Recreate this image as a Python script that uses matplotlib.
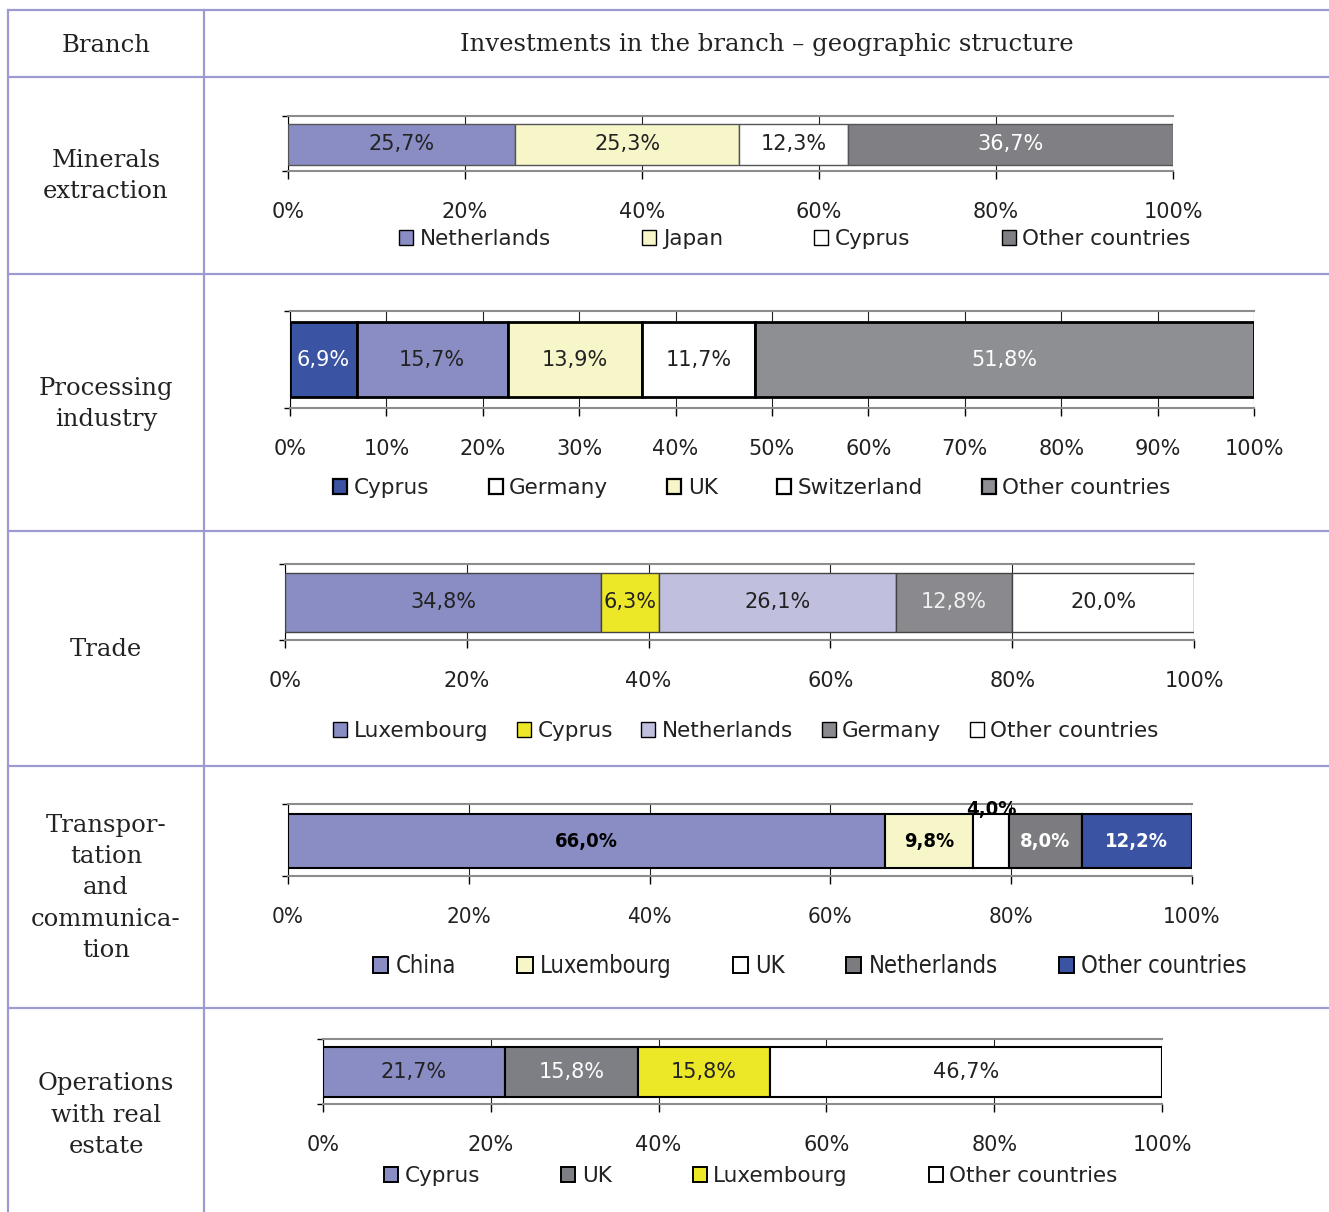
import matplotlib
matplotlib.use("Agg")
import matplotlib.pyplot as plt
from matplotlib.patches import Patch

# ---- data ----
branches = ["Minerals\nextraction", "Processing\nindustry", "Trade",
            "Transpor-\ntation\nand\ncommunica-\ntion", "Operations\nwith real\nestate"]

minerals_countries = ["Netherlands", "Japan", "Cyprus", "Other countries"]
minerals_values = [25.7, 25.3, 12.3, 36.7]

processing_countries = ["Cyprus", "Germany", "UK", "Switzerland", "Other countries"]
processing_values = [6.9, 15.7, 13.9, 11.7, 51.8]

trade_countries = ["Luxembourg", "Cyprus", "Netherlands", "Germany", "Other countries"]
trade_values = [34.8, 6.3, 26.1, 12.8, 20.0]

transport_countries = ["China", "Luxembourg", "UK", "Netherlands", "Other countries"]
transport_values = [66.0, 9.8, 4.0, 8.0, 12.2]

estate_countries = ["Cyprus", "UK", "Luxembourg", "Other countries"]
estate_values = [21.7, 15.8, 15.8, 46.7]

header_left = "Branch"
header_right = "Investments in the branch \u2013 geographic structure"

# ---- colours ----
LAV = "#8a8dc4"
LLAV = "#c0c0de"
LYEL = "#f7f6c8"
YEL = "#ece827"
DBLUE = "#3a53a3"
WHITE = "#ffffff"
LINE = "#9b9bd2"

W, H = 1329, 1212
fig = plt.figure(figsize=(W / 100, H / 100), dpi=100)
bg = fig.add_axes([0, 0, 1, 1])
bg.set_xlim(0, W)
bg.set_ylim(H, 0)
bg.axis("off")

# table grid
for y in [10, 77, 274, 531, 766, 1008]:
    bg.plot([8, W], [y, y], color=LINE, lw=1.6)
for x in [8, 204]:
    bg.plot([x, x], [10, H], color=LINE, lw=1.6)

serif = "DejaVu Serif"
bg.text(106, 45, header_left, ha="center", va="center", fontsize=17.5, family=serif, color="#222")
bg.text(767, 45, header_right, ha="center", va="center", fontsize=17.5, family=serif, color="#222")
for name, yc in zip(branches, [176, 404, 649, 888, 1115]):
    bg.text(106, yc, name, ha="center", va="center", fontsize=17.5, family=serif,
            color="#222", linespacing=1.46)

# row geometry in pixels: x0, x1, top line, bottom line, bar top, bar bottom
rows = [
    dict(vals=minerals_values, names=minerals_countries,
         colors=[LAV, LYEL, WHITE, "#7f7f84"], lcolors=[LAV, LYEL, WHITE, "#7f7f84"],
         tcolors=["#222", "#222", "#222", "white"],
         geo=(288, 1173, 116, 171, 124, 165), step=20, edge=("#555", 1.0),
         leg=(795, 239), cs=4.25, stretch="normal", fs=15, lfs=15.5, bold=False, ledge=1.0),
    dict(vals=processing_values, names=processing_countries,
         colors=[DBLUE, LAV, LYEL, WHITE, "#8e8f93"], lcolors=[DBLUE, WHITE, LYEL, WHITE, "#8e8f93"],
         tcolors=["white", "#222", "#222", "#222", "white"],
         geo=(290, 1254, 311, 408, 322, 397), step=10, edge=("black", 2.0),
         leg=(752, 488), cs=2.75, stretch="normal", fs=15, lfs=15.5, bold=False, ledge=1.6),
    dict(vals=trade_values, names=trade_countries,
         colors=[LAV, YEL, LLAV, "#8a8a8e", WHITE], lcolors=[LAV, YEL, LLAV, "#8a8a8e", WHITE],
         tcolors=["#222", "#222", "#222", "#f0f0f0", "#222"],
         geo=(285, 1194, 564, 640, 573, 632), step=20, edge=("#444", 1.0),
         leg=(746, 731), cs=1.33, stretch="normal", fs=15, lfs=15.5, bold=False, ledge=1.0),
    dict(vals=transport_values, names=transport_countries,
         colors=[LAV, LYEL, WHITE, "#7b7b80", DBLUE], lcolors=[LAV, LYEL, WHITE, "#7b7b80", DBLUE],
         tcolors=["black", "black", "black", "white", "white"],
         geo=(288, 1192, 804, 876, 814, 868), step=20, edge=("black", 1.5),
         leg=(810, 966), cs=2.6, stretch="condensed", fs=16, lfs=17, bold=True, ledge=1.4),
    dict(vals=estate_values, names=estate_countries,
         colors=[LAV, "#7e7f84", YEL, WHITE], lcolors=[LAV, "#7e7f84", YEL, WHITE],
         tcolors=["#222", "white", "#222", "#222"],
         geo=(323, 1162, 1039, 1104, 1047, 1097), step=20, edge=("black", 1.5),
         leg=(751, 1176), cs=3.77, stretch="normal", fs=15, lfs=15.5, bold=False, ledge=1.4),
]

for r in rows:
    x0, x1, yt, yb, bt, bb = r["geo"]
    ax = fig.add_axes([x0 / W, 1 - yb / H, (x1 - x0) / W, (yb - yt) / H])
    ax.set_xlim(0, 100)
    ax.set_ylim(-0.5, 0.5)
    frac = (bb - bt) / (yb - yt)
    yc = ((yt + yb) / 2 - (bt + bb) / 2) / (yb - yt)
    left = 0
    for v, c, tc in zip(r["vals"], r["colors"], r["tcolors"]):
        ax.barh(yc, v, left=left, height=frac, color=c,
                edgecolor=r["edge"][0], linewidth=r["edge"][1], zorder=3)
        lab = f"{v:.1f}".replace(".", ",") + "%"
        if r["bold"]:
            ypos = 0.43 if v < 5 else yc
            ax.text(left + v / 2, ypos, lab, ha="center", va="center", fontsize=14.5,
                    family="DejaVu Sans", stretch="condensed", weight="bold",
                    color=tc, zorder=5, clip_on=False)
        else:
            ax.text(left + v / 2, yc, lab, ha="center", va="center", fontsize=r["fs"],
                    family="DejaVu Sans", color=tc, zorder=5)
        left += v

    ticks = list(range(0, 101, r["step"]))
    ax.set_xticks(ticks)
    ax.set_xticklabels([f"{t}%" for t in ticks], family="DejaVu Sans",
                       stretch=r["stretch"], fontsize=r["fs"])
    ax.tick_params(axis="x", length=6, width=1, pad=16, color="black", labelcolor="#222")
    ax.set_yticks([-0.5, 0.5])
    ax.set_yticklabels([])
    ax.tick_params(axis="y", length=4, width=1, color="black")
    ax.grid(axis="x", color="#222", lw=0.8, zorder=1)
    ax.set_axisbelow(True)
    for s in ["top", "bottom"]:
        ax.spines[s].set_color("#8c8c8c")
        ax.spines[s].set_linewidth(1.5)
    ax.spines["right"].set_visible(False)
    ax.spines["left"].set_color("black")
    ax.patch.set_alpha(0)

    handles = [Patch(facecolor=c, edgecolor="black", linewidth=r["ledge"], label=n)
               for c, n in zip(r["lcolors"], r["names"])]
    ax.legend(handles=handles, loc="center", bbox_to_anchor=(r["leg"][0] / W, 1 - r["leg"][1] / H),
              bbox_transform=fig.transFigure, ncol=len(handles), frameon=False,
              columnspacing=r["cs"], handlelength=0.65, handleheight=0.65, handletextpad=0.3,
              borderpad=0,
              prop={"family": "DejaVu Sans", "stretch": r["stretch"], "size": r["lfs"]},
              labelcolor="#222")

fig.savefig("out.png", dpi=100)
